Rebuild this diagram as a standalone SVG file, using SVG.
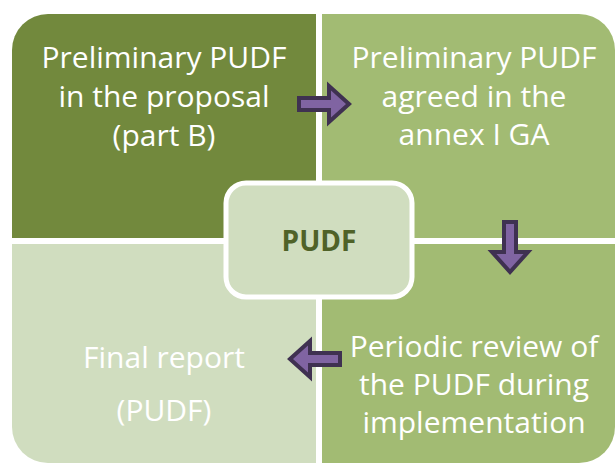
<svg xmlns="http://www.w3.org/2000/svg" width="616" height="464" viewBox="0 0 616 464">
  <defs>
    <style>
      .lbl { font-family: "Open Sans", "Liberation Sans", sans-serif; font-size: 30px; fill: #FFFFFF; text-anchor: middle; }
      .ctr { font-family: "Open Sans", "Liberation Sans", sans-serif; font-size: 28px; font-weight: bold; fill: #4F6228; text-anchor: middle; }
      .arrow { fill: #8064A2; stroke: #3F3151; stroke-width: 4; stroke-linejoin: miter; }
    </style>
    <polygon id="arr" points="0,-6 30,-6 30,-18 50,0 30,18 30,6 0,6"/>
  </defs>
  <rect width="616" height="464" fill="#FFFFFF"/>

  <g id="node-proposal">
    <path d="M12,50 A36,36 0 0 1 48,14 L316,14 L316,238 L12,238 Z" fill="#72893D"/>
    <text class="lbl" x="164" y="68">Preliminary PUDF</text>
    <text class="lbl" x="164" y="107">in the proposal</text>
    <text class="lbl" x="164" y="146">(part B)</text>
  </g>

  <g id="node-annex">
    <path d="M322,14 L579,14 A36,36 0 0 1 615,50 L615,238 L322,238 Z" fill="#A2BB73"/>
    <text class="lbl" x="474" y="68">Preliminary PUDF</text>
    <text class="lbl" x="474" y="107">agreed in the</text>
    <text class="lbl" x="474" y="145">annex I GA</text>
  </g>

  <g id="node-final">
    <path d="M12,244 L316,244 L316,463 L48,463 A36,36 0 0 1 12,427 Z" fill="#D0DDBF"/>
    <text class="lbl" x="164" y="368">Final report</text>
    <text class="lbl" x="164" y="421">(PUDF)</text>
  </g>

  <g id="node-review">
    <path d="M322,244 L615,244 L615,427 A36,36 0 0 1 579,463 L322,463 Z" fill="#A2BB73"/>
    <text class="lbl" x="474" y="357">Periodic review of</text>
    <text class="lbl" x="474" y="395">the PUDF during</text>
    <text class="lbl" x="474" y="433">implementation</text>
  </g>

  <g id="node-pudf">
    <rect x="226" y="183" width="186" height="114" rx="20" ry="20" fill="#D0DDBF" stroke="#FFFFFF" stroke-width="5"/>
    <text class="ctr" x="319" y="251">PUDF</text>
  </g>

  <g id="connectors">
    <use href="#arr" class="arrow" transform="translate(299,104)"/>
    <use href="#arr" class="arrow" transform="translate(510,222) rotate(90)"/>
    <use href="#arr" class="arrow" transform="translate(340,359) rotate(180)"/>
  </g>
</svg>
